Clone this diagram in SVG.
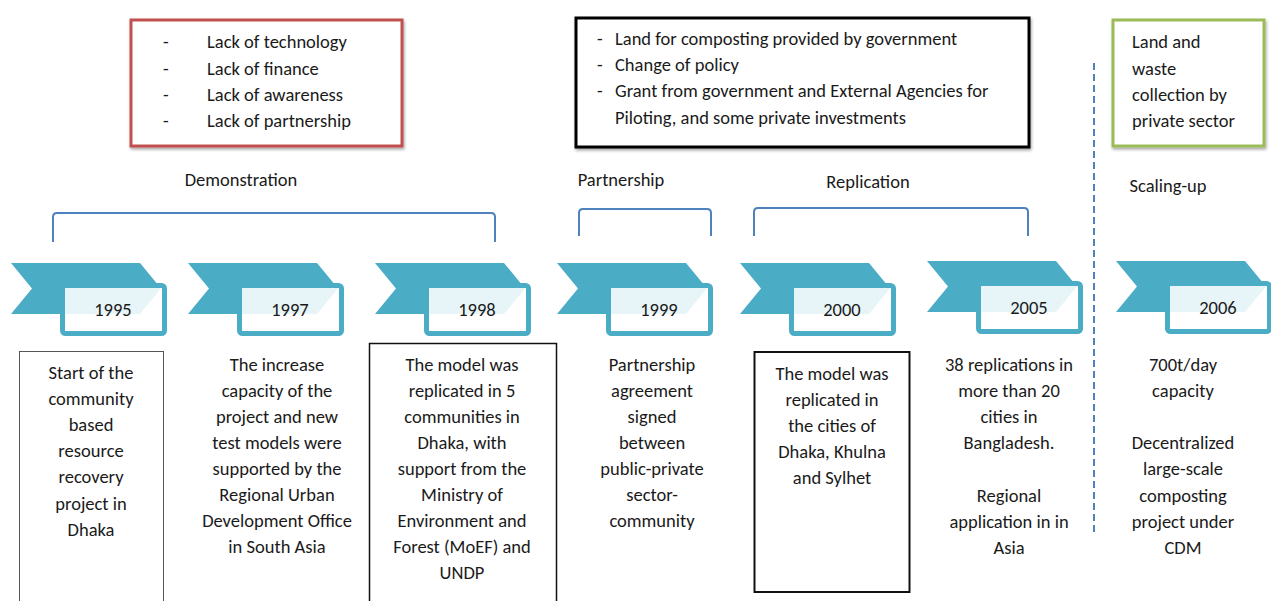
<svg xmlns="http://www.w3.org/2000/svg" width="1271" height="601" viewBox="0 0 1271 601">
<defs>
<style>
text{font-family:Carlito,Lato,"Liberation Sans",sans-serif;font-size:18.5px;fill:#1a1a1a}
.c{text-anchor:middle}
.chev{fill:#4bacc6}
.yb{fill:#ffffff;fill-opacity:0.87;stroke:#4bacc6;stroke-width:5}
.br{fill:none;stroke:#4f81bd;stroke-width:2}
.dbox{fill:none;stroke:#111;stroke-width:1.5}
</style>
<filter id="sh" x="-10%" y="-10%" width="120%" height="130%">
<feDropShadow dx="1" dy="2" stdDeviation="1.5" flood-color="#000" flood-opacity="0.35"/>
</filter>
<g id="arrow">
<path class="chev" d="M0,0 H129 L150,25.5 L129,51 H0 L21,25.5 Z"/>
<rect class="yb" x="51.5" y="22.5" width="102" height="48" rx="3"/>
</g>
</defs>
<rect width="1271" height="601" fill="#ffffff"/>

<g id="barrier-box">
<rect x="131" y="20" width="271" height="126" fill="#fff" stroke="#c0504d" stroke-width="3" filter="url(#sh)"/>
<text x="163" y="48">-</text><text x="207" y="48">Lack of technology</text>
<text x="163" y="75">-</text><text x="207" y="75">Lack of finance</text>
<text x="163" y="101">-</text><text x="207" y="101">Lack of awareness</text>
<text x="163" y="127">-</text><text x="207" y="127">Lack of partnership</text>
</g>

<g id="enabler-box">
<rect x="576" y="18" width="453" height="129" fill="#fff" stroke="#000" stroke-width="3" filter="url(#sh)"/>
<text x="597" y="45">-</text><text x="615" y="45">Land for composting provided by government</text>
<text x="597" y="71">-</text><text x="615" y="71">Change of policy</text>
<text x="597" y="97">-</text><text x="615" y="97">Grant from government and External Agencies for</text>
<text x="615" y="124">Piloting, and some private investments</text>
</g>

<g id="private-box">
<rect x="1113" y="20" width="151" height="126" fill="#fff" stroke="#9bbb59" stroke-width="3" filter="url(#sh)"/>
<text x="1132" y="48">Land and</text>
<text x="1132" y="75">waste</text>
<text x="1132" y="101">collection by</text>
<text x="1132" y="127">private sector</text>
</g>

<g id="phase-labels">
<text class="c" x="241" y="186">Demonstration</text>
<text class="c" x="621" y="186">Partnership</text>
<text class="c" x="868" y="188">Replication</text>
<text class="c" x="1168" y="192">Scaling-up</text>
</g>

<g id="connectors">
<path class="br" d="M53,242 V217 Q53,213 57,213 H491 Q495,213 495,217 V242"/>
<path class="br" d="M579,236 V213 Q579,209 583,209 H707 Q711,209 711,213 V236"/>
<path class="br" d="M754,236 V212 Q754,208 758,208 H1024 Q1028,208 1028,212 V236"/>
<line x1="1094" y1="63" x2="1094" y2="535" stroke="#4f81bd" stroke-width="2" stroke-dasharray="7,4"/>
</g>

<g id="y1995"><use href="#arrow" x="11" y="263"/><text class="c" x="113" y="316">1995</text></g>
<g id="y1997"><use href="#arrow" x="188" y="263"/><text class="c" x="290" y="316">1997</text></g>
<g id="y1998"><use href="#arrow" x="375" y="263"/><text class="c" x="477" y="316">1998</text></g>
<g id="y1999"><use href="#arrow" x="557" y="263"/><text class="c" x="659" y="316">1999</text></g>
<g id="y2000"><use href="#arrow" x="740" y="263"/><text class="c" x="842" y="316">2000</text></g>
<g id="y2005"><use href="#arrow" x="927" y="261"/><text class="c" x="1029" y="314">2005</text></g>
<g id="y2006"><use href="#arrow" x="1116" y="261"/><text class="c" x="1218" y="314">2006</text></g>

<g id="d1995">
<rect x="19.5" y="351.5" width="144" height="260" fill="none" stroke="#555" stroke-width="1"/>
<text class="c" x="91" y="379">Start of the</text>
<text class="c" x="91" y="405">community</text>
<text class="c" x="91" y="431">based</text>
<text class="c" x="91" y="457">resource</text>
<text class="c" x="91" y="483">recovery</text>
<text class="c" x="91" y="510">project in</text>
<text class="c" x="91" y="536">Dhaka</text>
</g>

<g id="d1997">
<text class="c" x="277" y="371">The increase</text>
<text class="c" x="277" y="397">capacity of the</text>
<text class="c" x="277" y="423">project and new</text>
<text class="c" x="277" y="449">test models were</text>
<text class="c" x="277" y="475">supported by the</text>
<text class="c" x="277" y="501">Regional Urban</text>
<text class="c" x="277" y="527">Development Office</text>
<text class="c" x="277" y="553">in South Asia</text>
</g>

<g id="d1998">
<rect class="dbox" x="369.5" y="343.5" width="187" height="270"/>
<text class="c" x="462" y="371">The model was</text>
<text class="c" x="462" y="397">replicated in 5</text>
<text class="c" x="462" y="423">communities in</text>
<text class="c" x="462" y="449">Dhaka, with</text>
<text class="c" x="462" y="475">support from the</text>
<text class="c" x="462" y="501">Ministry of</text>
<text class="c" x="462" y="527">Environment and</text>
<text class="c" x="462" y="553">Forest (MoEF) and</text>
<text class="c" x="462" y="579">UNDP</text>
</g>

<g id="d1999">
<text class="c" x="652" y="371">Partnership</text>
<text class="c" x="652" y="397">agreement</text>
<text class="c" x="652" y="423">signed</text>
<text class="c" x="652" y="449">between</text>
<text class="c" x="652" y="475">public-private</text>
<text class="c" x="652" y="501">sector-</text>
<text class="c" x="652" y="527">community</text>
</g>

<g id="d2000">
<rect x="754.5" y="352" width="155" height="240" fill="none" stroke="#111" stroke-width="2"/>
<text class="c" x="832" y="380">The model was</text>
<text class="c" x="832" y="406">replicated in</text>
<text class="c" x="832" y="432">the cities of</text>
<text class="c" x="832" y="458">Dhaka, Khulna</text>
<text class="c" x="832" y="484">and Sylhet</text>
</g>

<g id="d2005">
<text class="c" x="1009" y="371">38 replications in</text>
<text class="c" x="1009" y="397">more than 20</text>
<text class="c" x="1009" y="423">cities in</text>
<text class="c" x="1009" y="449">Bangladesh.</text>
<text class="c" x="1009" y="502">Regional</text>
<text class="c" x="1009" y="528">application in in</text>
<text class="c" x="1009" y="554">Asia</text>
</g>

<g id="d2006">
<text class="c" x="1183" y="371">700t/day</text>
<text class="c" x="1183" y="397">capacity</text>
<text class="c" x="1183" y="449">Decentralized</text>
<text class="c" x="1183" y="475">large-scale</text>
<text class="c" x="1183" y="502">composting</text>
<text class="c" x="1183" y="528">project under</text>
<text class="c" x="1183" y="554">CDM</text>
</g>
</svg>
